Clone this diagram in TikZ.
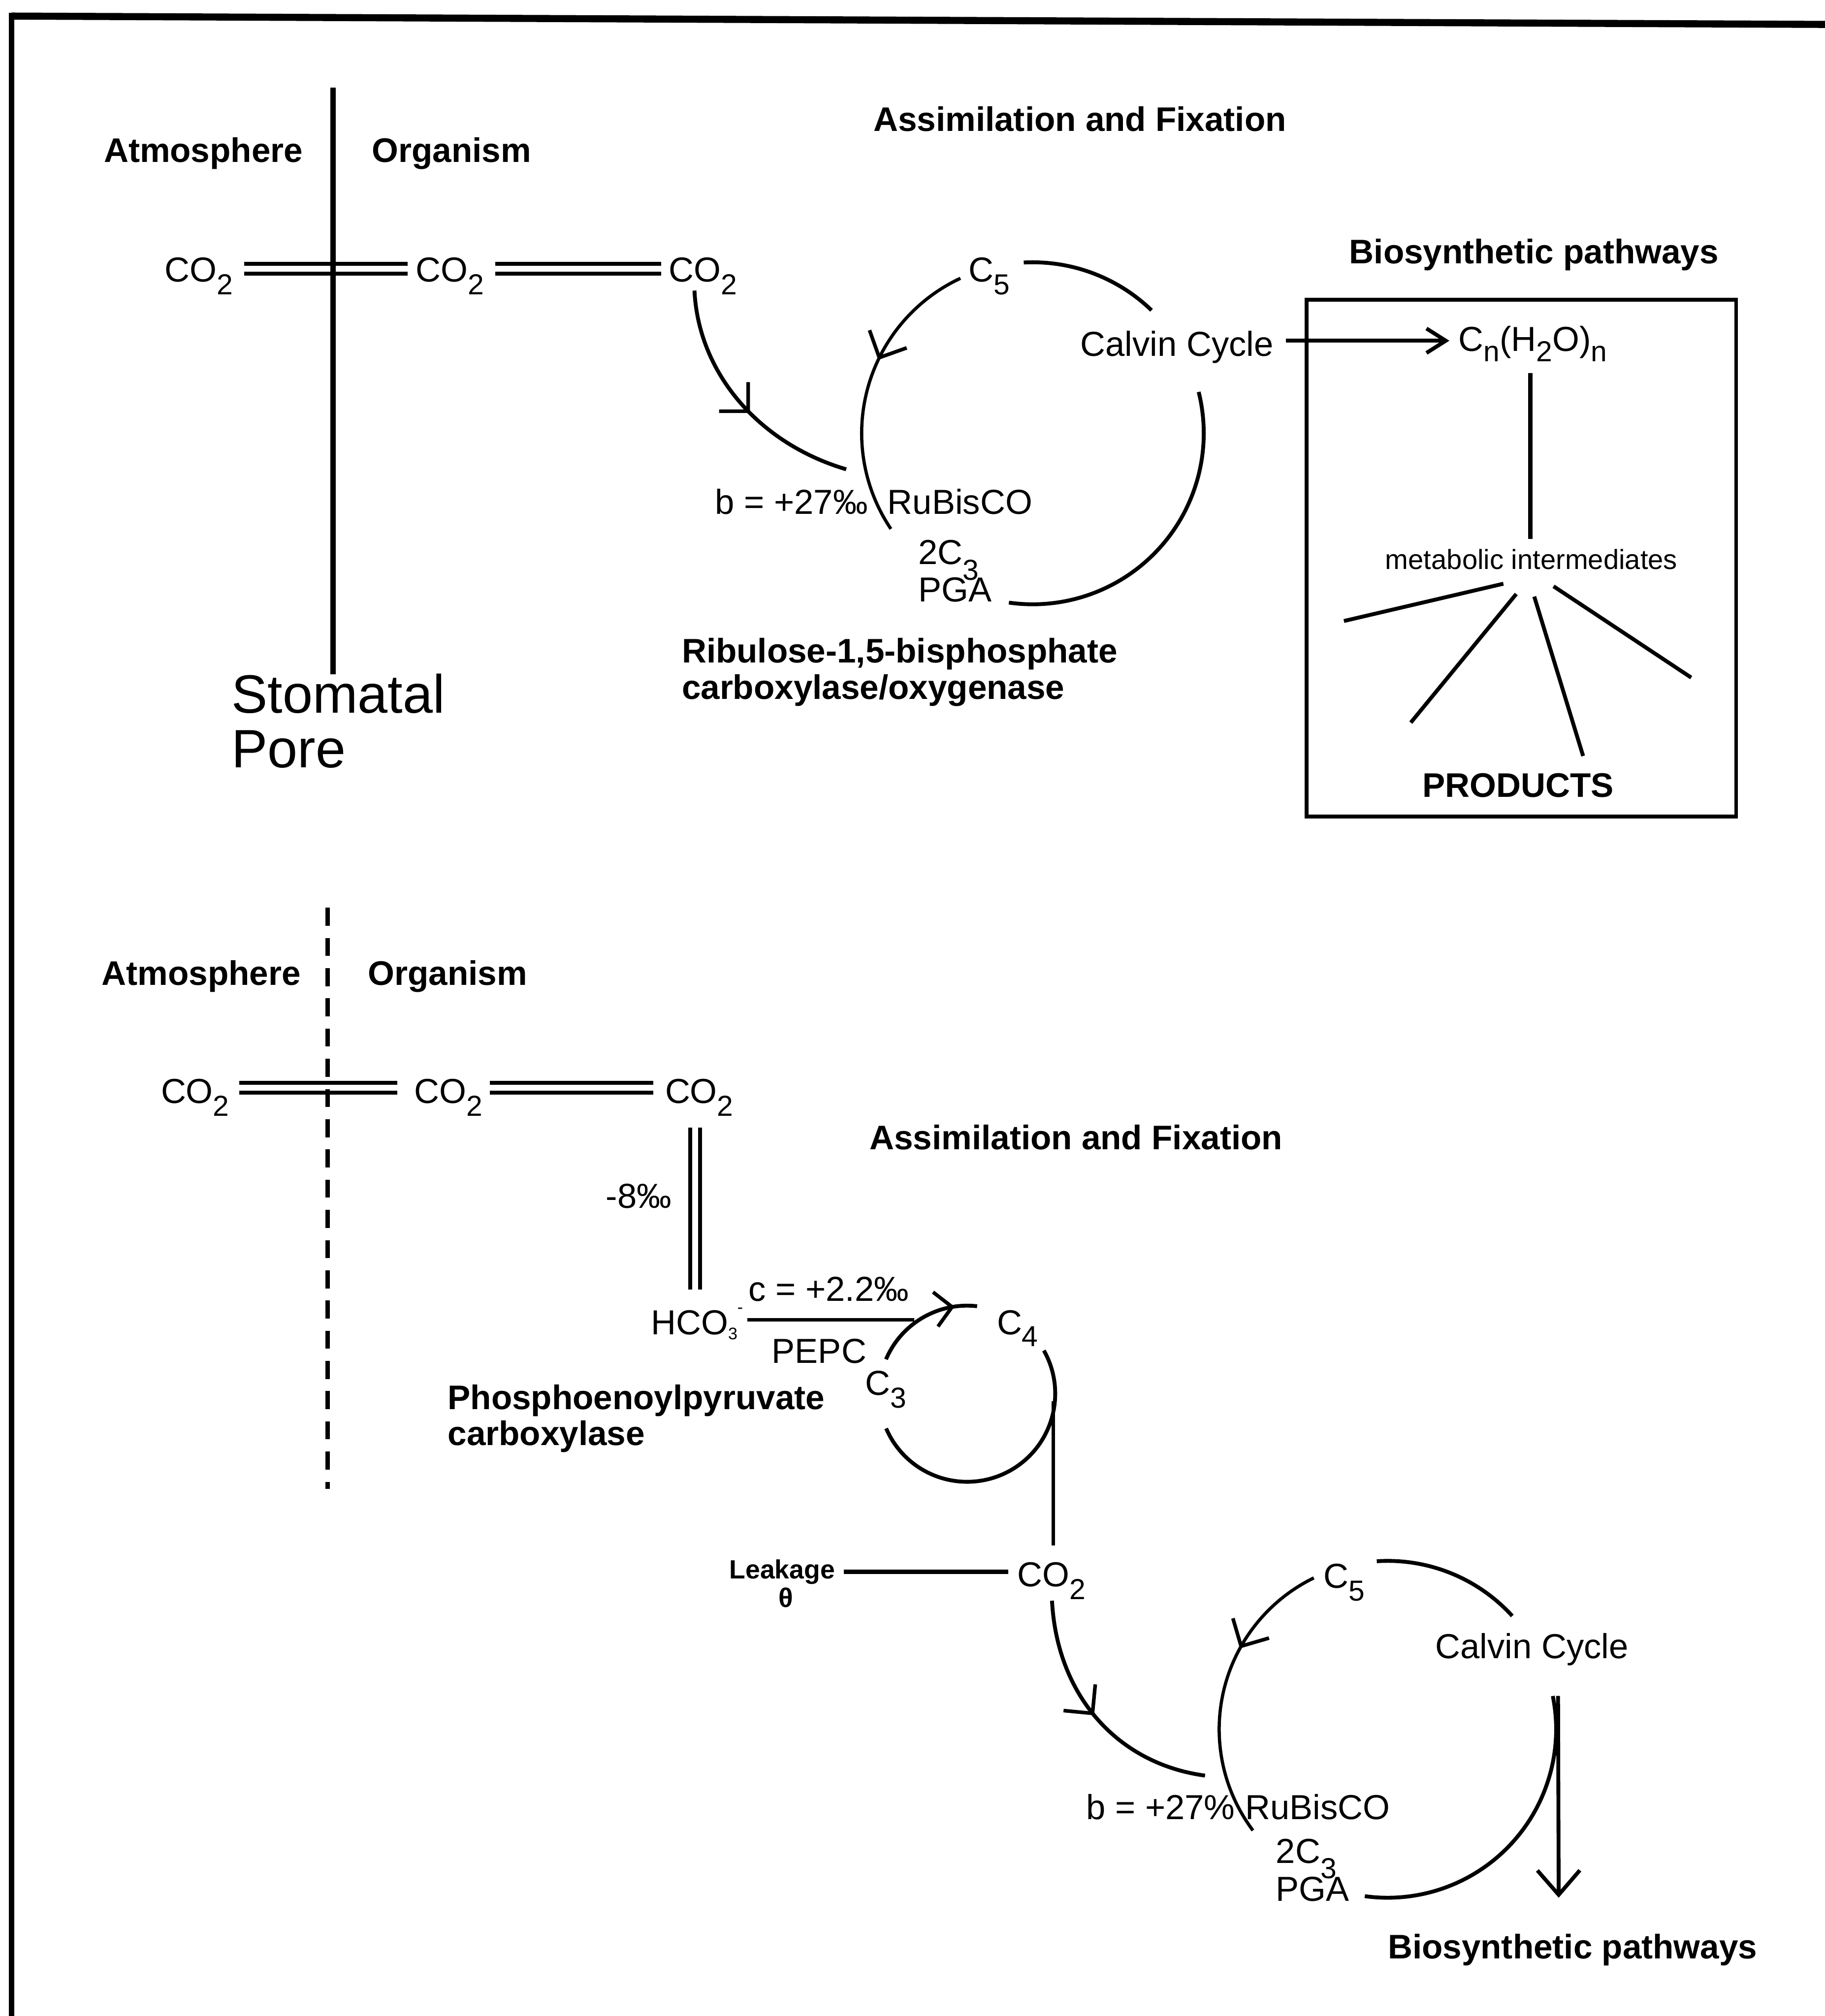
\documentclass[tikz,border=0pt]{standalone}
\usepackage{fontspec}
\setmainfont{Liberation Sans}
\usetikzlibrary{arrows.meta,decorations.markings}
\newcommand{\sbs}[2][10]{\raisebox{-#1pt}{\fontsize{22.5}{22.5}\selectfont #2}}
\newcommand{\ssbs}[2][4]{\raisebox{-#1pt}{\fontsize{13}{13}\selectfont #2}}
\begin{document}
\begin{tikzpicture}[x=1pt,y=-1pt,
  lbl/.style={inner sep=0pt, anchor=base west, font=\fontsize{27}{32}\selectfont},
  blbl/.style={inner sep=0pt, anchor=base west, font=\fontsize{26.5}{32}\selectfont\bfseries},
  ln/.style={line width=3pt},
  thin ln/.style={line width=2.5pt},
  dbl/.style={line width=3pt, double distance=4.5pt},
  midarr/.style={postaction={decorate}, decoration={markings,
     mark=at position #1 with {\arrow[line width=2.8pt]{Straight Barb[length=16pt,width=32pt]}}}},
  smallmidarr/.style={postaction={decorate}, decoration={markings,
     mark=at position #1 with {\arrow[line width=2.8pt]{Straight Barb[length=13pt,width=27pt]}}}},
]
\useasboundingbox (0,0) rectangle (1419,1568);
\fill[white] (0,0) rectangle (1419,1568);

% frame
\draw[line width=5.5pt] (9,12.5) -- (1419,19);
\draw[line width=4.5pt] (9,10) -- (9,1568);

% ================= upper panel =================
\node[blbl] (atm1) at (80.6,126) {Atmosphere};
\node[blbl] (org1) at (289,126) {Organism};
\node[blbl] (assim1) at (679,102) {Assimilation and Fixation};

\node[lbl] (co1a) at (128,219) {CO\sbs{2}};
\node[lbl] (co1b) at (323,219) {CO\sbs{2}};
\node[lbl] (co1c) at (520,219) {CO\sbs{2}};

\coordinate (d1a) at (190,209); \coordinate (d1b) at (317,209);
\coordinate (d2a) at (385,209); \coordinate (d2b) at (514,209);
\draw[dbl] (d1a) -- (d1b);
\draw[dbl] (d2a) -- (d2b);

\coordinate (pore1t) at (259,68); \coordinate (pore1b) at (259,524.5);
\draw[line width=4.5pt] (pore1t) -- (pore1b);

\node[lbl, font=\fontsize{42}{42}\selectfont] (stom) at (180,554.6) {Stomatal};
\node[lbl, font=\fontsize{42}{42}\selectfont] (pore) at (180,597) {Pore};

% Calvin cycle (upper)
\coordinate (cyc1) at (803,337);
\node[lbl] (c5a) at (753,219) {C\sbs{5}};
\node[lbl] (calvin1) at (840,277) {Calvin Cycle};
\draw[ln] (cyc1) ++(-93:133) arc[start angle=-93,end angle=-46,radius=133];
\draw[ln] (cyc1) ++(-14:133) arc[start angle=-14,end angle=98,radius=133];
\draw[thin ln, midarr=0.4] (cyc1) ++(-115:133) arc[start angle=-115,end angle=-214,radius=133];

\coordinate (co1cout) at (540,226);
\coordinate (rub1in) at (658,365);
\draw[ln, midarr=0.55] (co1cout) .. controls (543,290) and (590,345) .. (rub1in);

\node[lbl] (bval1) at (556,400) {b = +27‰};
\node[lbl] (rubisco1) at (690,400) {RuBisCO};
\node[lbl] (twoc1) at (714,439) {2C\sbs[12]{3}};
\node[lbl] (pga1) at (714,468) {PGA};
\node[blbl] (ribu) at (530,515.6) {Ribulose-1,5-bisphosphate};
\node[blbl] (carbox1) at (530,543.6) {carboxylase/oxygenase};

% biosynthetic box
\node[blbl] (bio1) at (1049,205) {Biosynthetic pathways};
\draw[ln] (1016,233) rectangle (1350,635);
\node[lbl] (cnh) at (1134,273) {C\sbs[8]{n}(H\sbs[8]{2}O)\sbs[8]{n}};
\coordinate (calvout) at (1000,265);
\coordinate (cnhin) at (1127,265);
\draw[ln, -{Straight Barb[length=15pt,width=19pt]}] (calvout) -- (cnhin);
\coordinate (cnhb) at (1190,290); \coordinate (metabt) at (1190,419);
\draw[line width=3.5pt] (cnhb) -- (metabt);
\node[lbl, font=\fontsize{21.5}{24}\selectfont] (metab) at (1077,442.6) {metabolic intermediates};
\coordinate (r1a) at (1169,454);  \coordinate (r1b) at (1045,483);
\coordinate (r2a) at (1179,462);  \coordinate (r2b) at (1097,562);
\coordinate (r3a) at (1193,464);  \coordinate (r3b) at (1231,588);
\coordinate (r4a) at (1208,456);  \coordinate (r4b) at (1315,527);
\draw[ln] (r1a) -- (r1b);
\draw[ln] (r2a) -- (r2b);
\draw[ln] (r3a) -- (r3b);
\draw[ln] (r4a) -- (r4b);
\node[blbl] (prod) at (1106,620) {PRODUCTS};

% ================= lower panel =================
\node[blbl] (atm2) at (79,766) {Atmosphere};
\node[blbl] (org2) at (286,766) {Organism};
\node[lbl] (co2a) at (125,858) {CO\sbs{2}};
\node[lbl] (co2b) at (322,858) {CO\sbs{2}};
\node[lbl] (co2c) at (517,858) {CO\sbs{2}};
\coordinate (e1a) at (186,846); \coordinate (e1b) at (309,846);
\coordinate (e2a) at (381,846); \coordinate (e2b) at (508,846);
\draw[dbl] (e1a) -- (e1b);
\draw[dbl] (e2a) -- (e2b);
\coordinate (pore2t) at (254.6,706); \coordinate (pore2b) at (254.6,1158);
\draw[line width=3.5pt, dash pattern=on 14pt off 9.5pt] (pore2t) -- (pore2b);

\node[blbl] (assim2) at (676,894) {Assimilation and Fixation};

\coordinate (vdt) at (540.5,877); \coordinate (vdb) at (540.5,1003);
\draw[dbl] (vdt) -- (vdb);
\node[lbl] (m8) at (471,939.5) {-8‰};
\node[lbl] (hco) at (506,1038) {HCO\ssbs{3}\raisebox{17pt}{\fontsize{13}{13}\selectfont -}};
\node[lbl] (cval) at (582,1012) {c = +2.2‰};
\node[lbl] (pepc) at (600,1060) {PEPC};
\node[lbl] (c4) at (775,1038) {C\sbs[9]{4}};
\node[lbl] (c3) at (672.6,1085) {C\sbs[10]{3}};
\node[blbl] (phos) at (348,1096) {Phosphoenoylpyruvate};
\node[blbl] (carbox2) at (348,1124) {carboxylase};

\coordinate (hcoout) at (581,1026.5); \coordinate (hcoend) at (711,1026.5);
\draw[ln] (hcoout) -- (hcoend);
\coordinate (cyc4) at (752,1084);
\draw[ln, smallmidarr=0.8] (cyc4) ++(-157:68.5) arc[start angle=-157,end angle=-83.5,radius=68.5];
\draw[ln] (cyc4) ++(-29.4:68.5) arc[start angle=-29.4,end angle=156.8,radius=68.5];
\coordinate (c4out) at (819,1090); \coordinate (co2din) at (819,1202);
\draw[ln] (c4out) -- (co2din);

\node[lbl] (co2d) at (791,1234) {CO\sbs{2}};
\node[blbl, font=\fontsize{20.5}{24}\selectfont\bfseries] (leak) at (567,1228) {Leakage};
\node[inner sep=0pt, anchor=base, font=\fontsize{21}{24}\selectfont\bfseries] (theta) at (611,1250) {θ};
\coordinate (leakin) at (656,1222.6); \coordinate (co2dw) at (784,1222.6);
\draw[line width=3.5pt] (leakin) -- (co2dw);

\coordinate (co2dout) at (818,1245);
\coordinate (rub2in) at (937,1381);
\draw[ln, midarr=0.49] (co2dout) .. controls (822,1320) and (870,1372) .. (rub2in);

\coordinate (cyc2) at (1079,1345);
\node[lbl] (c5b) at (1029,1235) {C\sbs{5}};
\node[lbl] (calvin2) at (1116,1290) {Calvin Cycle};
\draw[ln] (cyc2) ++(-93.7:131) arc[start angle=-93.7,end angle=-42.3,radius=131];
\draw[ln] (cyc2) ++(-11.4:131) arc[start angle=-11.4,end angle=97.8,radius=131];
\draw[thin ln, midarr=0.35] (cyc2) ++(-116:131) arc[start angle=-116,end angle=-216.9,radius=131];

\coordinate (calv2out) at (1211.5,1319); \coordinate (bio2in) at (1212,1476);
\draw[ln, -{Straight Barb[length=19pt,width=33pt]}] (calv2out) -- (bio2in);

\node[lbl] (bval2) at (844.5,1415) {b = +27\%};
\node[lbl] (rubisco2) at (968,1415) {RuBisCO};
\node[lbl] (twoc2) at (992,1449) {2C\sbs[12]{3}};
\node[lbl] (pga2) at (992,1478.5) {PGA};
\node[blbl] (bio2) at (1079,1523.5) {Biosynthetic pathways};
\end{tikzpicture}
\end{document}
